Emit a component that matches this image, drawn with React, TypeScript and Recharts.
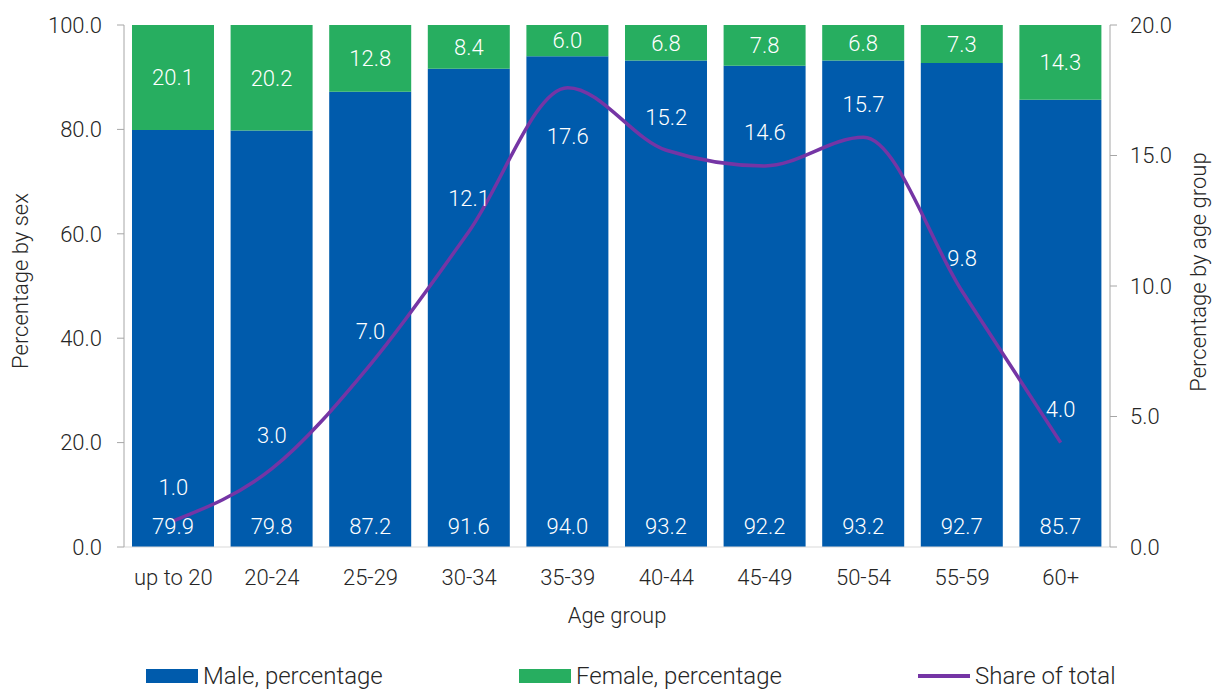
import React from "react";
import {
  ComposedChart,
  Bar,
  Line,
  XAxis,
  YAxis,
  Legend,
  LabelList,
} from "recharts";

const AGE_GROUPS = ["up to 20", "20-24", "25-29", "30-34", "35-39", "40-44", "45-49", "50-54", "55-59", "60+"];
const MALE = [79.9, 79.8, 87.2, 91.6, 94.0, 93.2, 92.2, 93.2, 92.7, 85.7];
const FEMALE = [20.1, 20.2, 12.8, 8.4, 6.0, 6.8, 7.8, 6.8, 7.3, 14.3];
const SHARE = [1.0, 3.0, 7.0, 12.1, 17.6, 15.2, 14.6, 15.7, 9.8, 4.0];
const LEFT_TICKS = [0, 20, 40, 60, 80, 100];
const RIGHT_TICKS = [0, 5, 10, 15, 20];

const BLUE = "#005BAC";
const GREEN = "#27AE60";
const PURPLE = "#7535A5";
const FONT = "Roboto, 'Noto Sans', sans-serif";
const TEXT = "#262626";
const FS = 22;

const data = AGE_GROUPS.map((age, i) => ({
  age,
  male: MALE[i],
  female: FEMALE[i],
  share: SHARE[i],
}));

const fmt = (v: any) => Number(v).toFixed(1);

// share labels sit above the point, except the peak which goes underneath
const ShareLabel = (props: any) => {
  const { x, y, value } = props;
  const dy = value > 17 ? 49 : -33;
  return (
    <text
      x={x}
      y={y + dy}
      fill="#fff"
      fontSize={FS}
      fontWeight={300}
      fontFamily={FONT}
      textAnchor="middle"
      dominantBaseline="central"
    >
      {fmt(value)}
    </text>
  );
};

const AxisTitle = ({ x, y, text }: { x: number; y: number; text: string }) => (
  <text
    x={x}
    y={y}
    transform={`rotate(-90, ${x}, ${y})`}
    textAnchor="middle"
    dominantBaseline="central"
    fill={TEXT}
    fontSize={FS}
    fontWeight={300}
    fontFamily={FONT}
  >
    {text}
  </text>
);

const LegendContent = () => {
  const item = (swatch: React.ReactNode, label: string, w: number) => (
    <div style={{ display: "flex", alignItems: "center", width: w }}>
      {swatch}
      <span style={{ marginLeft: 5, fontSize: 24, color: TEXT, fontFamily: FONT, fontWeight: 300 }}>{label}</span>
    </div>
  );
  return (
    <div style={{ display: "flex", paddingLeft: 146 }}>
      {item(<div style={{ width: 52, height: 14, background: BLUE }} />, "Male, percentage", 373)}
      {item(<div style={{ width: 52, height: 14, background: GREEN }} />, "Female, percentage", 399)}
      {item(<div style={{ width: 52, height: 4, background: PURPLE }} />, "Share of total", 220)}
    </div>
  );
};

const tickStyle = { fill: TEXT, fontSize: FS, fontFamily: FONT, fontWeight: 300 };

export default function App() {
  return (
    <div style={{ position: "absolute", left: 0, top: 0, background: "#fff" }}>
      <ComposedChart
        width={1225}
        height={690}
        data={data}
        margin={{ top: 25, right: 0, bottom: 0, left: 0 }}
        barSize={82}
      >
        <XAxis
          dataKey="age"
          height={115}
          axisLine={{ stroke: "#d9d9d9" }}
          tickLine={false}
          tick={tickStyle}
          tickMargin={16}
          label={{ value: "Age group", position: "insideTop", offset: 60, ...tickStyle }}
        />
        <YAxis
          yAxisId="left"
          width={124}
          domain={[0, 100]}
          ticks={LEFT_TICKS}
          tickFormatter={fmt}
          axisLine={{ stroke: "#a6a6a6" }}
          tickLine={{ stroke: "#a6a6a6" }}
          tickSize={7}
          tickMargin={15}
          tick={tickStyle}
          label={{ content: () => <AxisTitle x={20} y={281} text="Percentage by sex" /> }}
        />
        <YAxis
          yAxisId="right"
          orientation="right"
          width={115}
          domain={[0, 20]}
          ticks={RIGHT_TICKS}
          tickFormatter={fmt}
          axisLine={{ stroke: "#a6a6a6" }}
          tickLine={{ stroke: "#a6a6a6" }}
          tickSize={7}
          tickMargin={13}
          tick={tickStyle}
          label={{ content: () => <AxisTitle x={1198} y={272} text="Percentage by age group" /> }}
        />
        <Legend
          verticalAlign="bottom"
          wrapperStyle={{ left: 0, top: 662, width: 1225 }}
          content={<LegendContent />}
        />
        <Bar yAxisId="left" dataKey="male" name="Male, percentage" stackId="s" fill={BLUE} isAnimationActive={false}>
          <LabelList
            dataKey="male"
            position="insideBottom"
            offset={13}
            formatter={fmt}
            fill="#fff"
            fontSize={FS}
            fontWeight={300}
            fontFamily={FONT}
          />
        </Bar>
        <Bar yAxisId="left" dataKey="female" name="Female, percentage" stackId="s" fill={GREEN} isAnimationActive={false}>
          <LabelList
            dataKey="female"
            position="center"
            formatter={fmt}
            fill="#fff"
            fontSize={FS}
            fontWeight={300}
            fontFamily={FONT}
          />
        </Bar>
        <Line
          yAxisId="right"
          dataKey="share"
          name="Share of total"
          type="monotone"
          stroke={PURPLE}
          strokeWidth={3.5}
          dot={false}
          isAnimationActive={false}
        >
          <LabelList dataKey="share" content={<ShareLabel />} />
        </Line>
      </ComposedChart>
    </div>
  );
}
